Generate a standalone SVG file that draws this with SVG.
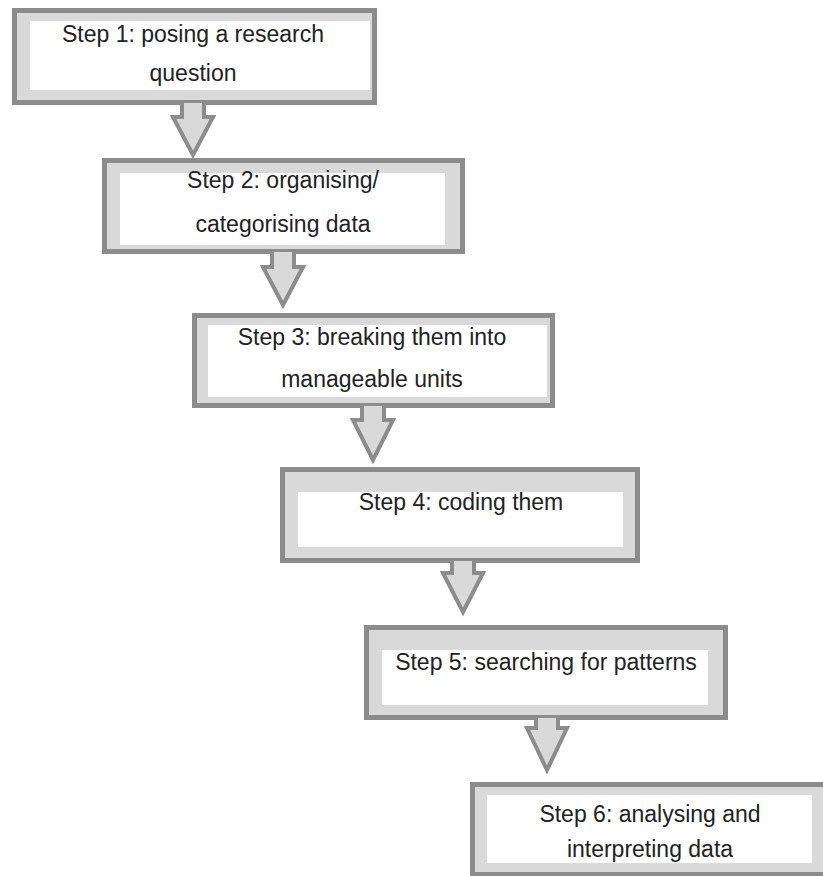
<svg xmlns="http://www.w3.org/2000/svg" width="823" height="876" viewBox="0 0 823 876">
<style>
.frame{fill:#d9d9d9;stroke:#8c8c8c;stroke-width:5}
.inner{fill:#ffffff}
.arrow{fill:#d9d9d9;stroke:#8c8c8c;stroke-width:4;stroke-linejoin:miter}
.lbl{font-family:"Liberation Sans",Arial,sans-serif;font-size:23px;fill:#222;text-anchor:middle}
</style>
<rect width="823" height="876" fill="#ffffff"/>
<g id="step1">
<rect class="frame" x="14.5" y="10.5" width="360" height="92"/>
<rect class="inner" x="30" y="21" width="340" height="69"/>
<text class="lbl" x="193" y="42">Step 1: posing a research</text>
<text class="lbl" x="193" y="81">question</text>
</g>
<g id="step2">
<rect class="frame" x="104.5" y="160.5" width="358" height="91"/>
<rect class="inner" x="120" y="173" width="325" height="72"/>
<text class="lbl" x="283" y="188">Step 2: organising/</text>
<text class="lbl" x="283" y="232">categorising data</text>
</g>
<g id="step3">
<rect class="frame" x="194.5" y="315.5" width="358" height="90"/>
<rect class="inner" x="208" y="325" width="339" height="72"/>
<text class="lbl" x="372" y="345">Step 3: breaking them into</text>
<text class="lbl" x="372" y="387">manageable units</text>
</g>
<g id="step4">
<rect class="frame" x="282.5" y="469.5" width="355" height="91"/>
<rect class="inner" x="298" y="492" width="325" height="55"/>
<text class="lbl" x="461" y="510">Step 4: coding them</text>
</g>
<g id="step5">
<rect class="frame" x="366.5" y="627.5" width="359" height="90"/>
<rect class="inner" x="382" y="650" width="326" height="55"/>
<text class="lbl" x="546" y="670">Step 5: searching for patterns</text>
</g>
<g id="step6">
<rect class="frame" x="472.5" y="784.5" width="357" height="90"/>
<rect class="inner" x="487" y="795" width="325" height="68"/>
<text class="lbl" x="650" y="822">Step 6: analysing and</text>
<text class="lbl" x="650" y="857">interpreting data</text>
</g>
<g id="connectors">
<path class="arrow" d="M182,103 L182,117 L173,117 L193,155 L213,117 L204,117 L204,103"/>
<path class="arrow" d="M272,252 L272,267 L263,267 L283,305 L303,267 L294,267 L294,252"/>
<path class="arrow" d="M362,406 L362,420 L353,420 L373,460 L393,420 L384,420 L384,406"/>
<path class="arrow" d="M452,561 L452,573 L443,573 L463,612 L483,573 L474,573 L474,561"/>
<path class="arrow" d="M536,718 L536,728 L527,728 L547,770 L567,728 L558,728 L558,718"/>
</g>
</svg>
